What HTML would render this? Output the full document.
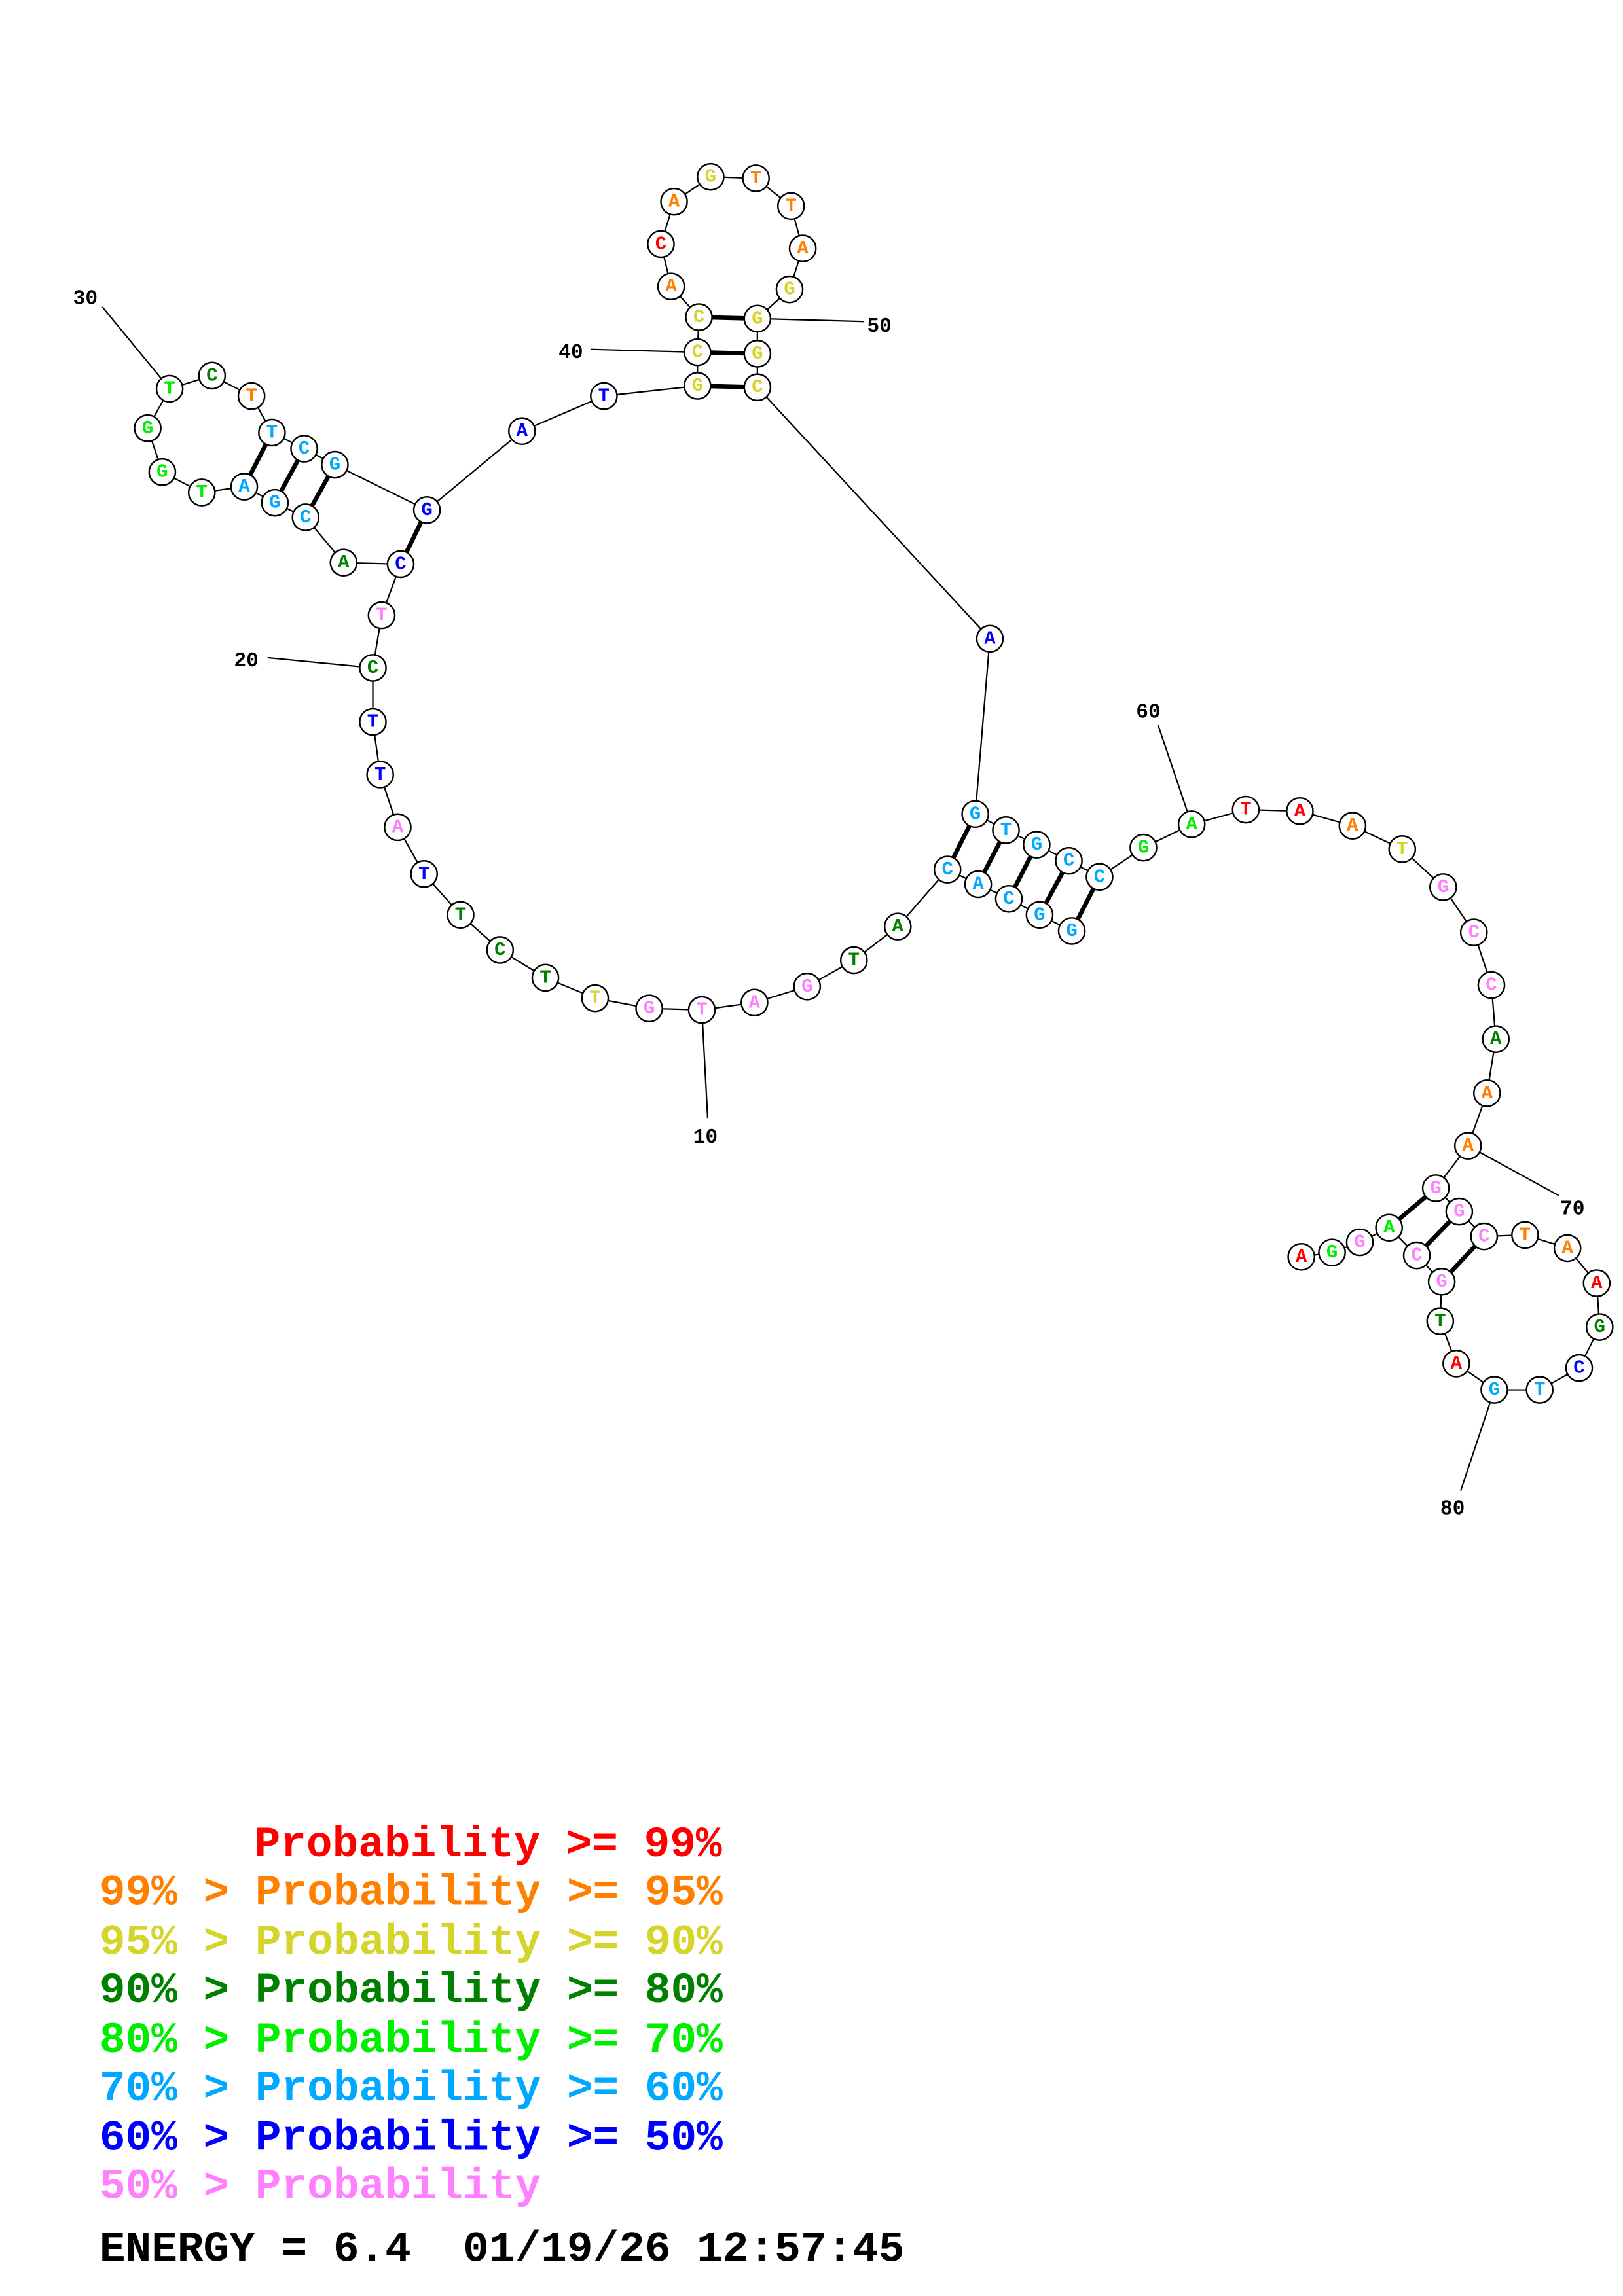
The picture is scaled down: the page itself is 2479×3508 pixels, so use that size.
<!DOCTYPE html>
<html><head><meta charset="utf-8"><style>
html,body{margin:0;padding:0;background:#fff;}
svg{display:block;}
.n circle{fill:#fff;stroke:#000;stroke-width:1.1;}
.n text{font-family:"Liberation Mono",monospace;font-weight:bold;font-size:13px;text-anchor:middle;dominant-baseline:central;}
.lab{font-family:"Liberation Mono",monospace;font-weight:bold;font-size:14px;fill:#000;}
.lg{font-family:"Liberation Mono",monospace;font-weight:bold;font-size:29.6px;white-space:pre;}
.lg text{white-space:pre;}
.r{fill:#ff0000}.o{fill:#ff8000}.y{fill:#d4d42a}.d{fill:#008000}.g{fill:#00ee00}.c{fill:#00a8ff}.b{fill:#0000ff}.p{fill:#ff80ff}
</style></head><body>
<svg width="2479" height="3508" viewBox="0 0 1110 1571" preserveAspectRatio="none" xmlns="http://www.w3.org/2000/svg">
<g stroke="#000" stroke-width="1" fill="none">
<polyline points="733,637 711,626 690,615 669,605 648,595 614,634 584,657 552,675 516,686 480,691 444,690 407,683 373,669 342,650 315,626 290,598 272,566 260,530 255,494 255,457 261,421 274,386 235,385 209,354 188,344 167,333 138,337 111,323 101,293 116,266 145,257 172,271 186,296 208,307 229,318 292,349 357,295 413,271 477,264 477,241 478,217 459,196 452,167 461,138 486,121 517,122 541,141 549,170 540,198 518,218 518,242 518,265 677,437 667,557 688,568 709,578 731,589 752,600 782,580 815,564 852,554 889,555 925,565 959,581 987,607 1008,638 1020,674 1023,711 1017,748 1004,784 982,813 998,829 1015,846 1043,845 1072,854 1092,878 1094,908 1080,936 1053,951 1022,951 996,933 985,904 986,877 969,859 950,840 930,850 911,857 890,860"/>
<line x1="480" y1="691" x2="484" y2="765"/>
<line x1="255" y1="457" x2="183" y2="450"/>
<line x1="116" y1="266" x2="70" y2="210"/>
<line x1="477" y1="241" x2="404" y2="239"/>
<line x1="518" y1="218" x2="591" y2="220"/>
<line x1="815" y1="564" x2="792" y2="496"/>
<line x1="1004" y1="784" x2="1066" y2="818"/>
<line x1="1022" y1="951" x2="999" y2="1020"/>
</g>
<g stroke="#000" stroke-width="3">
<line x1="733" y1="637" x2="752" y2="600"/>
<line x1="711" y1="626" x2="731" y2="589"/>
<line x1="690" y1="615" x2="709" y2="578"/>
<line x1="669" y1="605" x2="688" y2="568"/>
<line x1="648" y1="595" x2="667" y2="557"/>
<line x1="274" y1="386" x2="292" y2="349"/>
<line x1="209" y1="354" x2="229" y2="318"/>
<line x1="188" y1="344" x2="208" y2="307"/>
<line x1="167" y1="333" x2="186" y2="296"/>
<line x1="477" y1="264" x2="518" y2="265"/>
<line x1="477" y1="241" x2="518" y2="242"/>
<line x1="478" y1="217" x2="518" y2="218"/>
<line x1="982" y1="813" x2="950" y2="840"/>
<line x1="998" y1="829" x2="969" y2="859"/>
<line x1="1015" y1="846" x2="986" y2="877"/>
</g>
<g class="n">
<circle cx="733" cy="637" r="9"/><text x="733" y="637" class="c">G</text>
<circle cx="711" cy="626" r="9"/><text x="711" y="626" class="c">G</text>
<circle cx="690" cy="615" r="9"/><text x="690" y="615" class="c">C</text>
<circle cx="669" cy="605" r="9"/><text x="669" y="605" class="c">A</text>
<circle cx="648" cy="595" r="9"/><text x="648" y="595" class="c">C</text>
<circle cx="614" cy="634" r="9"/><text x="614" y="634" class="d">A</text>
<circle cx="584" cy="657" r="9"/><text x="584" y="657" class="d">T</text>
<circle cx="552" cy="675" r="9"/><text x="552" y="675" class="p">G</text>
<circle cx="516" cy="686" r="9"/><text x="516" y="686" class="p">A</text>
<circle cx="480" cy="691" r="9"/><text x="480" y="691" class="p">T</text>
<circle cx="444" cy="690" r="9"/><text x="444" y="690" class="p">G</text>
<circle cx="407" cy="683" r="9"/><text x="407" y="683" class="y">T</text>
<circle cx="373" cy="669" r="9"/><text x="373" y="669" class="d">T</text>
<circle cx="342" cy="650" r="9"/><text x="342" y="650" class="d">C</text>
<circle cx="315" cy="626" r="9"/><text x="315" y="626" class="d">T</text>
<circle cx="290" cy="598" r="9"/><text x="290" y="598" class="b">T</text>
<circle cx="272" cy="566" r="9"/><text x="272" y="566" class="p">A</text>
<circle cx="260" cy="530" r="9"/><text x="260" y="530" class="b">T</text>
<circle cx="255" cy="494" r="9"/><text x="255" y="494" class="b">T</text>
<circle cx="255" cy="457" r="9"/><text x="255" y="457" class="d">C</text>
<circle cx="261" cy="421" r="9"/><text x="261" y="421" class="p">T</text>
<circle cx="274" cy="386" r="9"/><text x="274" y="386" class="b">C</text>
<circle cx="235" cy="385" r="9"/><text x="235" y="385" class="d">A</text>
<circle cx="209" cy="354" r="9"/><text x="209" y="354" class="c">C</text>
<circle cx="188" cy="344" r="9"/><text x="188" y="344" class="c">G</text>
<circle cx="167" cy="333" r="9"/><text x="167" y="333" class="c">A</text>
<circle cx="138" cy="337" r="9"/><text x="138" y="337" class="g">T</text>
<circle cx="111" cy="323" r="9"/><text x="111" y="323" class="g">G</text>
<circle cx="101" cy="293" r="9"/><text x="101" y="293" class="g">G</text>
<circle cx="116" cy="266" r="9"/><text x="116" y="266" class="g">T</text>
<circle cx="145" cy="257" r="9"/><text x="145" y="257" class="d">C</text>
<circle cx="172" cy="271" r="9"/><text x="172" y="271" class="o">T</text>
<circle cx="186" cy="296" r="9"/><text x="186" y="296" class="c">T</text>
<circle cx="208" cy="307" r="9"/><text x="208" y="307" class="c">C</text>
<circle cx="229" cy="318" r="9"/><text x="229" y="318" class="c">G</text>
<circle cx="292" cy="349" r="9"/><text x="292" y="349" class="b">G</text>
<circle cx="357" cy="295" r="9"/><text x="357" y="295" class="b">A</text>
<circle cx="413" cy="271" r="9"/><text x="413" y="271" class="b">T</text>
<circle cx="477" cy="264" r="9"/><text x="477" y="264" class="y">G</text>
<circle cx="477" cy="241" r="9"/><text x="477" y="241" class="y">C</text>
<circle cx="478" cy="217" r="9"/><text x="478" y="217" class="y">C</text>
<circle cx="459" cy="196" r="9"/><text x="459" y="196" class="o">A</text>
<circle cx="452" cy="167" r="9"/><text x="452" y="167" class="r">C</text>
<circle cx="461" cy="138" r="9"/><text x="461" y="138" class="o">A</text>
<circle cx="486" cy="121" r="9"/><text x="486" y="121" class="y">G</text>
<circle cx="517" cy="122" r="9"/><text x="517" y="122" class="o">T</text>
<circle cx="541" cy="141" r="9"/><text x="541" y="141" class="o">T</text>
<circle cx="549" cy="170" r="9"/><text x="549" y="170" class="o">A</text>
<circle cx="540" cy="198" r="9"/><text x="540" y="198" class="y">G</text>
<circle cx="518" cy="218" r="9"/><text x="518" y="218" class="y">G</text>
<circle cx="518" cy="242" r="9"/><text x="518" y="242" class="y">G</text>
<circle cx="518" cy="265" r="9"/><text x="518" y="265" class="y">C</text>
<circle cx="677" cy="437" r="9"/><text x="677" y="437" class="b">A</text>
<circle cx="667" cy="557" r="9"/><text x="667" y="557" class="c">G</text>
<circle cx="688" cy="568" r="9"/><text x="688" y="568" class="c">T</text>
<circle cx="709" cy="578" r="9"/><text x="709" y="578" class="c">G</text>
<circle cx="731" cy="589" r="9"/><text x="731" y="589" class="c">C</text>
<circle cx="752" cy="600" r="9"/><text x="752" y="600" class="c">C</text>
<circle cx="782" cy="580" r="9"/><text x="782" y="580" class="g">G</text>
<circle cx="815" cy="564" r="9"/><text x="815" y="564" class="g">A</text>
<circle cx="852" cy="554" r="9"/><text x="852" y="554" class="r">T</text>
<circle cx="889" cy="555" r="9"/><text x="889" y="555" class="r">A</text>
<circle cx="925" cy="565" r="9"/><text x="925" y="565" class="o">A</text>
<circle cx="959" cy="581" r="9"/><text x="959" y="581" class="y">T</text>
<circle cx="987" cy="607" r="9"/><text x="987" y="607" class="p">G</text>
<circle cx="1008" cy="638" r="9"/><text x="1008" y="638" class="p">C</text>
<circle cx="1020" cy="674" r="9"/><text x="1020" y="674" class="p">C</text>
<circle cx="1023" cy="711" r="9"/><text x="1023" y="711" class="d">A</text>
<circle cx="1017" cy="748" r="9"/><text x="1017" y="748" class="o">A</text>
<circle cx="1004" cy="784" r="9"/><text x="1004" y="784" class="o">A</text>
<circle cx="982" cy="813" r="9"/><text x="982" y="813" class="p">G</text>
<circle cx="998" cy="829" r="9"/><text x="998" y="829" class="p">G</text>
<circle cx="1015" cy="846" r="9"/><text x="1015" y="846" class="p">C</text>
<circle cx="1043" cy="845" r="9"/><text x="1043" y="845" class="o">T</text>
<circle cx="1072" cy="854" r="9"/><text x="1072" y="854" class="o">A</text>
<circle cx="1092" cy="878" r="9"/><text x="1092" y="878" class="r">A</text>
<circle cx="1094" cy="908" r="9"/><text x="1094" y="908" class="d">G</text>
<circle cx="1080" cy="936" r="9"/><text x="1080" y="936" class="b">C</text>
<circle cx="1053" cy="951" r="9"/><text x="1053" y="951" class="c">T</text>
<circle cx="1022" cy="951" r="9"/><text x="1022" y="951" class="c">G</text>
<circle cx="996" cy="933" r="9"/><text x="996" y="933" class="r">A</text>
<circle cx="985" cy="904" r="9"/><text x="985" y="904" class="d">T</text>
<circle cx="986" cy="877" r="9"/><text x="986" y="877" class="p">G</text>
<circle cx="969" cy="859" r="9"/><text x="969" y="859" class="p">C</text>
<circle cx="950" cy="840" r="9"/><text x="950" y="840" class="g">A</text>
<circle cx="930" cy="850" r="9"/><text x="930" y="850" class="p">G</text>
<circle cx="911" cy="857" r="9"/><text x="911" y="857" class="g">G</text>
<circle cx="890" cy="860" r="9"/><text x="890" y="860" class="r">A</text>
</g>
<text class="lab" x="474" y="782">10</text>
<text class="lab" x="160" y="456">20</text>
<text class="lab" x="50" y="208">30</text>
<text class="lab" x="382" y="245">40</text>
<text class="lab" x="593" y="227">50</text>
<text class="lab" x="777" y="491">60</text>
<text class="lab" x="1067" y="831">70</text>
<text class="lab" x="985" y="1036">80</text>
<g class="lg">
<text x="174" y="1270" class="r">Probability &gt;= 99%</text>
<text x="68" y="1303" class="o">99% &gt; Probability &gt;= 95%</text>
<text x="68" y="1337" class="y">95% &gt; Probability &gt;= 90%</text>
<text x="68" y="1370" class="d">90% &gt; Probability &gt;= 80%</text>
<text x="68" y="1404" class="g">80% &gt; Probability &gt;= 70%</text>
<text x="68" y="1437" class="c">70% &gt; Probability &gt;= 60%</text>
<text x="68" y="1471" class="b">60% &gt; Probability &gt;= 50%</text>
<text x="68" y="1504" class="p">50% &gt; Probability</text>
<text x="68" y="1547" fill="#000">ENERGY = 6.4  01/19/26 12:57:45</text>
</g>
</svg>
</body></html>
